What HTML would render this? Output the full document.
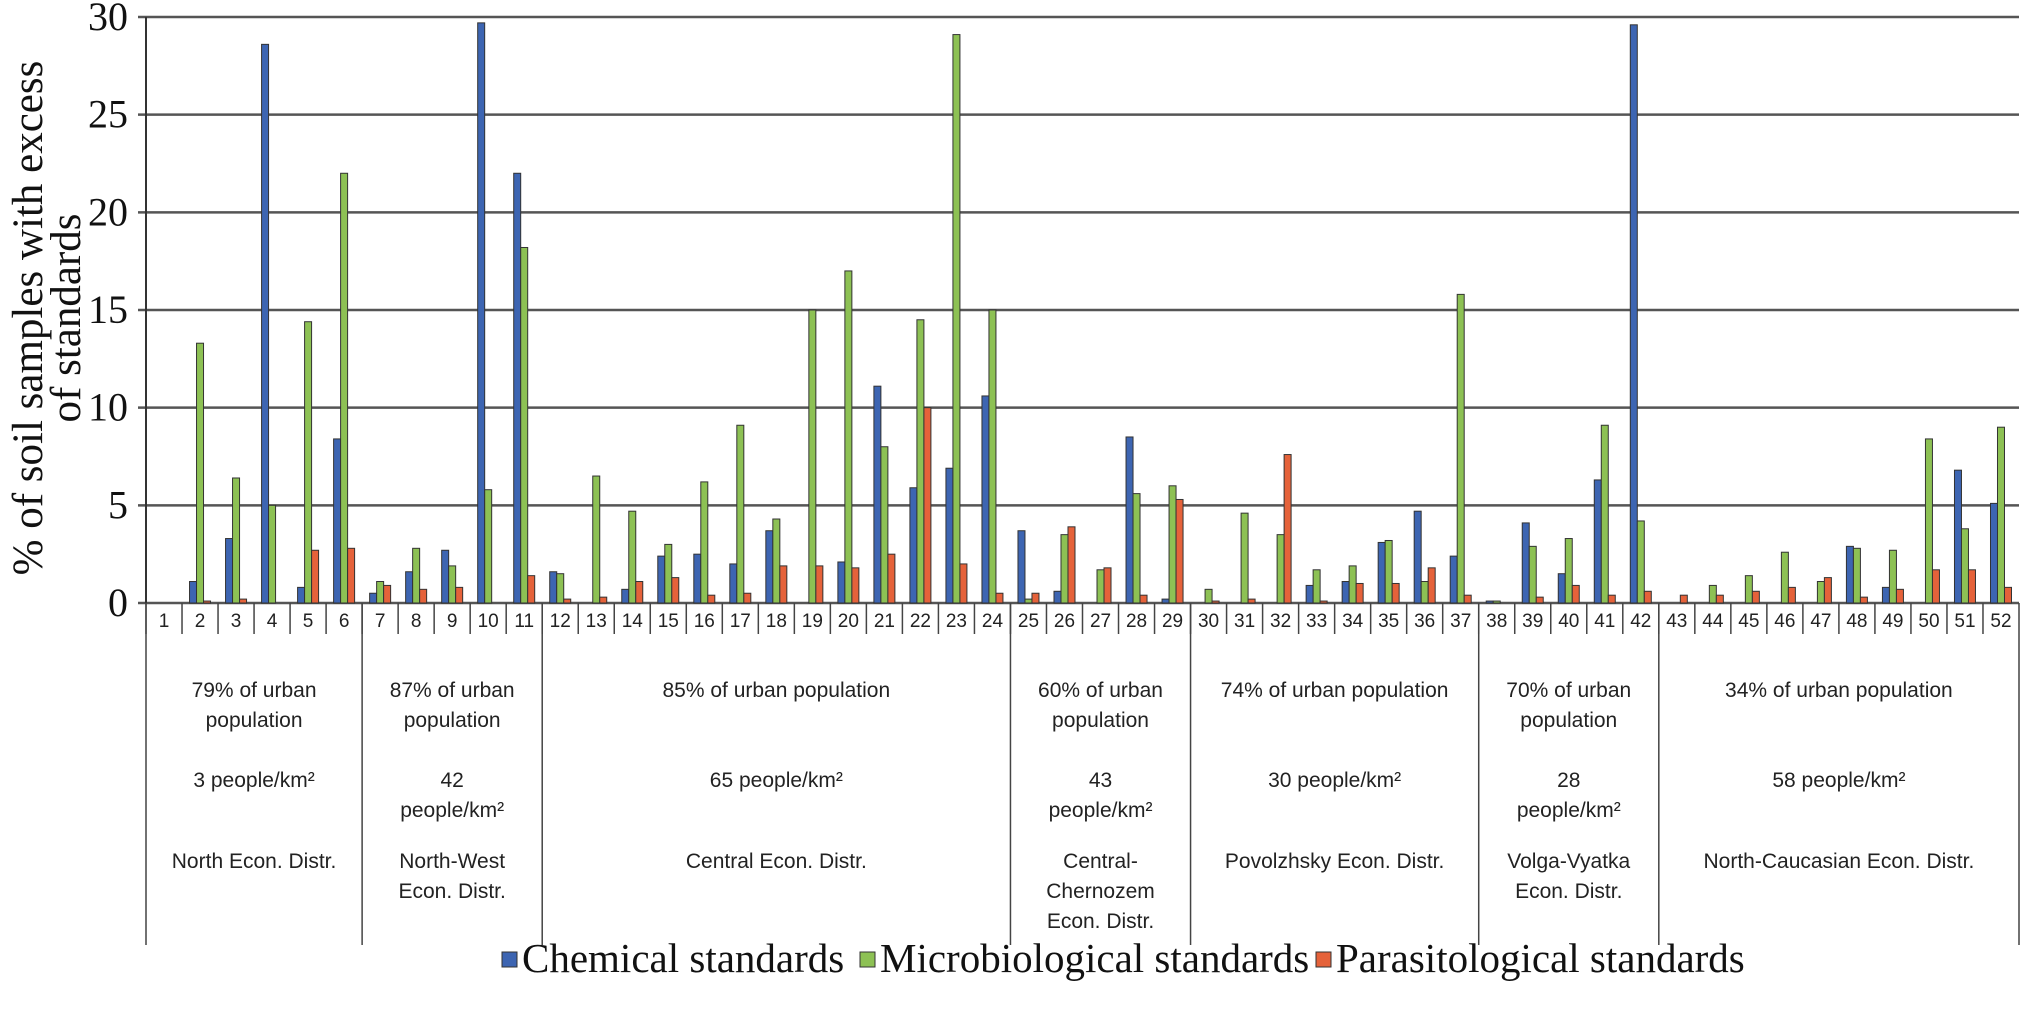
<!DOCTYPE html>
<html><head><meta charset="utf-8"><style>
html,body{margin:0;padding:0;background:#fff;}
svg{display:block;}
</style></head><body>
<svg id="chart" width="2035" height="1022" xmlns="http://www.w3.org/2000/svg"></svg>
<script>
const categories = Array.from({length:52},(_,i)=>String(i+1));
const chemical = [0,1.1,3.3,28.6,0.8,8.4,0.5,1.6,2.7,29.7,22.0,1.6,0,0.7,2.4,2.5,2.0,3.7,0,2.1,11.1,5.9,6.9,10.6,3.7,0.6,0,8.5,0.2,0,0,0,0.9,1.1,3.1,4.7,2.4,0.1,4.1,1.5,6.3,29.6,0,0,0,0,0,2.9,0.8,0,6.8,5.1];
const microbiological = [0,13.3,6.4,5.0,14.4,22.0,1.1,2.8,1.9,5.8,18.2,1.5,6.5,4.7,3.0,6.2,9.1,4.3,15.0,17.0,8.0,14.5,29.1,15.0,0.2,3.5,1.7,5.6,6.0,0.7,4.6,3.5,1.7,1.9,3.2,1.1,15.8,0.1,2.9,3.3,9.1,4.2,0,0.9,1.4,2.6,1.1,2.8,2.7,8.4,3.8,9.0];
const parasitological = [0,0.1,0.2,0,2.7,2.8,0.9,0.7,0.8,0,1.4,0.2,0.3,1.1,1.3,0.4,0.5,1.9,1.9,1.8,2.5,10.0,2.0,0.5,0.5,3.9,1.8,0.4,5.3,0.1,0.2,7.6,0.1,1.0,1.0,1.8,0.4,0,0.3,0.9,0.4,0.6,0.4,0.4,0.6,0.8,1.3,0.3,0.7,1.7,1.7,0.8];
const yTicks = [0,5,10,15,20,25,30];
const groupEnds = [6,11,24,29,37,42,52];
const groupLabels = [
 [["79% of urban","population"],["3 people/km²"],["North Econ. Distr."]],
 [["87% of urban","population"],["42","people/km²"],["North-West","Econ. Distr."]],
 [["85% of urban population"],["65 people/km²"],["Central Econ. Distr."]],
 [["60% of urban","population"],["43","people/km²"],["Central-","Chernozem","Econ. Distr."]],
 [["74% of urban population"],["30 people/km²"],["Povolzhsky Econ. Distr."]],
 [["70% of urban","population"],["28","people/km²"],["Volga-Vyatka","Econ. Distr."]],
 [["34% of urban population"],["58 people/km²"],["North-Caucasian Econ. Distr."]]
];
const svg=document.getElementById('chart');
const NS='http://www.w3.org/2000/svg';
const X0=146,X1=2019,Y0=603,Y30=17;
const cw=(X1-X0)/categories.length;
const y=v=>Y0-(Y0-Y30)*v/30;
const xc=i=>X0+i*cw;
function mk(t,a){const e=document.createElementNS(NS,t);for(const k in a)e.setAttribute(k,a[k]);svg.appendChild(e);return e;}
yTicks.forEach(t=>{
 const l=mk('line',{x1:X0-8,x2:X1,y1:y(t),y2:y(t),stroke:'#555','stroke-width':2.5});
 
 
 const tx=mk('text',{x:X0-18,y:y(t)+13,'text-anchor':'end','font-family':'Liberation Serif, serif','font-size':40,fill:'#111'});
 tx.textContent=t;
 
 
});
const yt=mk('text',{transform:'translate(42,318) rotate(-90)','text-anchor':'middle','font-family':'Liberation Serif, serif','font-size':43,fill:'#111'});


yt.innerHTML='<tspan x="0" dy="0">% of soil samples with excess</tspan><tspan x="0" dy="38">of standards</tspan>';
const ax=mk('line',{x1:X0,x2:X0,y1:Y30,y2:Y0,stroke:'#333','stroke-width':2});


const series=[[chemical,'#3d65b2','chemical'],[microbiological,'#8dc154','microbiological'],[parasitological,'#e5623a','parasitological']];
const bw=7;
categories.forEach((c,i)=>{
 series.forEach((s,j)=>{
  const v=s[0][i];
  const bx=xc(i)+cw/2-1.5*bw+j*bw;
  const r=mk('rect',{x:bx,y:y(v),width:bw,height:Math.max(Y0-y(v),0),fill:s[1],stroke:'#333','stroke-width':1});
  
  
 });
 const ln=mk('line',{x1:xc(i),x2:xc(i),y1:Y0,y2:634,stroke:'#444','stroke-width':1.5});
 
 
 const t=mk('text',{x:xc(i)+cw/2,y:627,'text-anchor':'middle','font-family':'Liberation Sans, sans-serif','font-size':19,fill:'#222'});
 t.textContent=c;
 
 
});
let start=0;
const gd=mk('line',{x1:X0,x2:X0,y1:Y0,y2:945,stroke:'#444','stroke-width':1.5});


groupEnds.forEach((e,g)=>{
 const l=mk('line',{x1:xc(e),x2:xc(e),y1:Y0,y2:945,stroke:'#444','stroke-width':1.5});
 
 
 const cx=(xc(start)+xc(e))/2;
 const rows=[697,787,868];
 groupLabels[g].forEach((lines,k)=>{
  lines.forEach((s,m)=>{
   const tx=mk('text',{x:cx,y:rows[k]+m*30,'text-anchor':'middle','font-family':'Liberation Sans, sans-serif','font-size':21,fill:'#222'});
   tx.textContent=s;
   
   
  });
 });
 start=e;
});
const leg=[[502,'#3d65b2','Chemical standards'],[860,'#8dc154','Microbiological standards'],[1316,'#e5623a','Parasitological standards']];
leg.forEach(L=>{
 const r=mk('rect',{x:L[0],y:952,width:15,height:15,fill:L[1],stroke:'#333','stroke-width':1});
 
 
 const t=mk('text',{x:L[0]+20,y:972,'font-family':'Liberation Serif, serif','font-size':41,fill:'#111'});
 t.textContent=L[2];
 
 
});
</script>
</body></html>
